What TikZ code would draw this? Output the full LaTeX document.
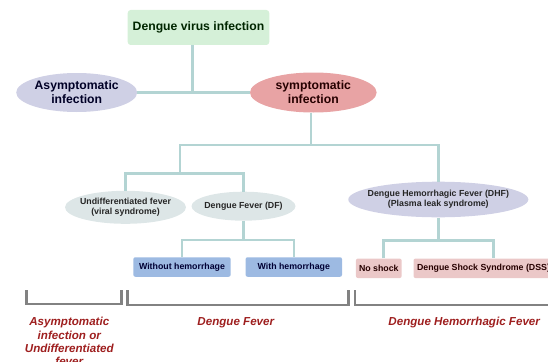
\documentclass[tikz,border=0pt]{standalone}
\usepackage{fontspec}
\setmainfont{Liberation Sans}
\usepackage{xcolor}
\usetikzlibrary{positioning,shapes.geometric}

\definecolor{linkc}{HTML}{B3D4D3}
\definecolor{brkc}{HTML}{828282}
\definecolor{greenf}{HTML}{D5F0D8}
\definecolor{lavf}{HTML}{CFD0E5}
\definecolor{pinkf}{HTML}{E8A3A4}
\definecolor{greyf}{HTML}{DDE6E7}
\definecolor{bluef}{HTML}{9DBAE2}
\definecolor{rosef}{HTML}{EBC8C8}
\definecolor{lblred}{HTML}{9E1F1F}

\begin{document}
\begin{tikzpicture}[x=1pt, y=-1pt,
  link/.style={line width=2.5pt, linkc},
  brk/.style={line width=2.6pt, brkc},
  big/.style={font=\fontsize{12.2}{14}\selectfont\bfseries, align=center},
  oval/.style={ellipse, inner sep=0pt, align=center, text=black!85,
               font=\fontsize{8.8}{10}\selectfont\bfseries},
  box/.style={rectangle, rounded corners=2pt, minimum height=19.5pt, inner xsep=3pt,
              font=\fontsize{8.8}{10}\selectfont\bfseries},
  lbl/.style={align=center, text=lblred, font=\fontsize{11.6}{13.3}\selectfont\bfseries\itshape}]
  \useasboundingbox (0,0) rectangle (548,361);
  \clip (0,0) rectangle (548,361);
  \node[big, fill=greenf, rounded corners=3pt, minimum width=141.6pt, minimum height=35pt,
        text=black!85!green] (dvi) at (198.5,27.5) {Dengue virus infection};
  \node[big, ellipse, inner sep=0pt, fill=lavf, minimum width=121pt, minimum height=39pt,
        text=black!85!blue] (asym) at (76.7,92.5) {Asymptomatic\\infection};
  \node[big, ellipse, inner sep=0pt, fill=pinkf, minimum width=126.7pt, minimum height=40pt,
        text=black!85!red] (symp) at (313.3,92.5) {symptomatic\\infection};
  \node[oval, fill=greyf, minimum width=121pt, minimum height=33pt, inner xsep=-3pt]
        (undf) at (125.5,207.3) {Undifferentiated fever\\(viral syndrome)};
  \node[oval, fill=greyf, minimum width=104pt, minimum height=29pt, inner xsep=-2.5pt]
        (df) at (243.5,206.2) {Dengue Fever (DF)};
  \node[oval, fill=lavf, minimum width=180pt, minimum height=35.6pt, inner xsep=-7pt]
        (dhf) at (438.3,199.5) {Dengue Hemorrhagic Fever (DHF)\\(Plasma leak syndrome)};
  \node[box, fill=bluef, minimum width=97.4pt, text=black!80!blue] (woh) at (182,267) {Without hemorrhage};
  \node[box, fill=bluef, minimum width=96.5pt, text=black!80!blue] (wh) at (293.8,267) {With hemorrhage};
  \node[box, fill=rosef, minimum width=45.7pt, text=black!85!red] (nos) at (378.8,268.3) {No shock};
  \node[box, fill=rosef, anchor=west, minimum width=140pt, text=black!85!red]
        (dss) at (413.3,268.3) {Dengue Shock Syndrome (DSS)};
  \coordinate (j0) at (192.7,92.5);
  \coordinate (j1) at (311,145);
  \coordinate (j2) at (180,173.3);
  \coordinate (j3) at (243.5,240);
  \coordinate (k1) at (383.5,240.5);
  \coordinate (k2) at (493.3,240.5);
  \draw[link] (asym.east) -- (symp.west);
  \draw[link] (dvi.south -| j0) -- (j0);
  \draw[link] (symp.south -| j1) -- (j1);
  \draw[link] (j2) |- (j1) -| (dhf.north);
  \draw[link] (undf.north) |- (j2) -| (df.north);
  \draw[link] (df.south) -- (j3);
  \draw[link] (woh.north) |- (j3) -| (wh.north);
  \draw[link] (dhf.south) -- (dhf.south |- k1);
  \draw[link] (k1 |- nos.north) -- (k1) -- (k2) -- (k2 |- dss.north);
  \draw[brk] (26.7,290) |- (121.7,304) -- (121.7,290);
  \draw[brk] (127.5,290) |- (348.3,305) -- (348.3,290);
  \draw[brk] (355,290) |- (560,305);
  \node[lbl] (lasym) at (69.3,341.7) {Asymptomatic\\infection or\\Undifferentiated\\fever};
  \node[lbl] (ldf) at (235.8,322.7) {Dengue Fever};
  \node[lbl] (ldhf) at (464.2,322.7) {Dengue Hemorrhagic Fever};
\end{tikzpicture}
\end{document}
